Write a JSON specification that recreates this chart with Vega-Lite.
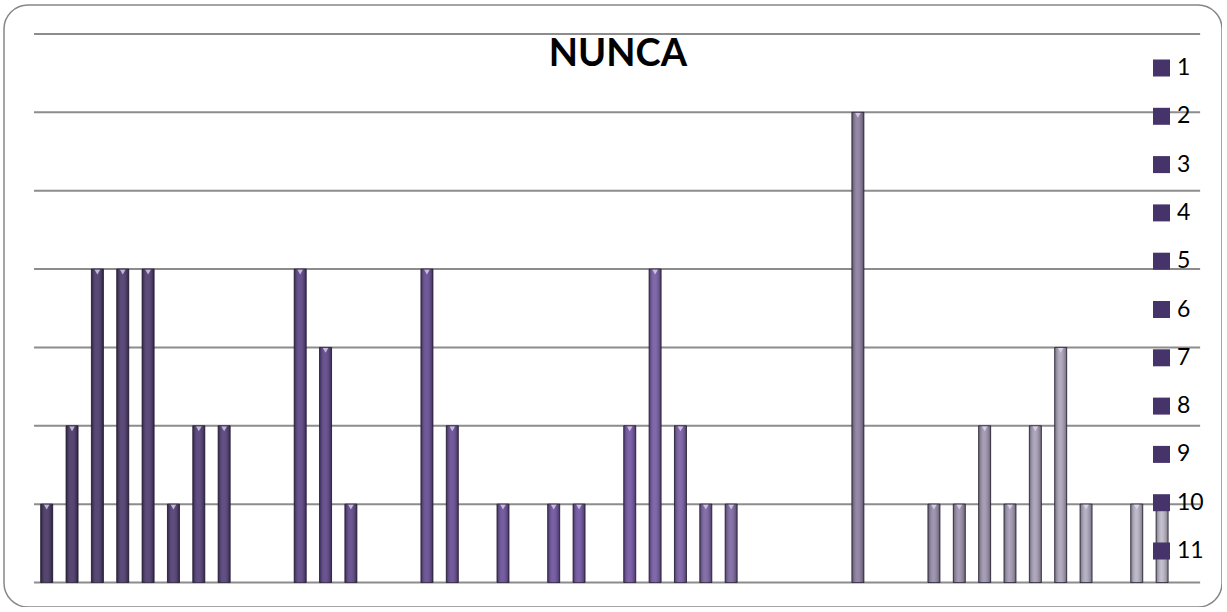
{
  "$schema": "https://vega.github.io/schema/vega-lite/v6.json",
  "autosize": {"type": "none"},
  "padding": {"left": 4, "top": 5, "right": 0, "bottom": 0},
  "width": 1218,
  "height": 602,
  "background": "white",
  "config": {
    "view": {"stroke": "#868686", "strokeWidth": 1.5, "cornerRadius": 24, "fill": "white"}
  },
  "title": {"text": "NUNCA", "font": "Lato", "fontSize": 38, "fontWeight": "bold", "color": "#000000", "anchor": "middle", "offset": -99, "baseline": "alphabetic", "dx": 5},
  "datasets": {
    "bars": [
      {"n": 0, "v": 1}, {"n": 1, "v": 2}, {"n": 2, "v": 4}, {"n": 3, "v": 4}, {"n": 4, "v": 4},
      {"n": 5, "v": 1}, {"n": 6, "v": 2}, {"n": 7, "v": 2}, {"n": 8, "v": 0}, {"n": 9, "v": 0},
      {"n": 10, "v": 4}, {"n": 11, "v": 3}, {"n": 12, "v": 1}, {"n": 13, "v": 0}, {"n": 14, "v": 0},
      {"n": 15, "v": 4}, {"n": 16, "v": 2}, {"n": 17, "v": 0}, {"n": 18, "v": 1}, {"n": 19, "v": 0},
      {"n": 20, "v": 1}, {"n": 21, "v": 1}, {"n": 22, "v": 0}, {"n": 23, "v": 2}, {"n": 24, "v": 4},
      {"n": 25, "v": 2}, {"n": 26, "v": 1}, {"n": 27, "v": 1}, {"n": 28, "v": 0}, {"n": 29, "v": 0},
      {"n": 30, "v": 0}, {"n": 31, "v": 0}, {"n": 32, "v": 6}, {"n": 33, "v": 0}, {"n": 34, "v": 0},
      {"n": 35, "v": 1}, {"n": 36, "v": 1}, {"n": 37, "v": 2}, {"n": 38, "v": 1}, {"n": 39, "v": 2},
      {"n": 40, "v": 3}, {"n": 41, "v": 1}, {"n": 42, "v": 0}, {"n": 43, "v": 1}, {"n": 44, "v": 1},
      {"n": 45, "v": 0}
    ],
    "grid": [{"g": 0}, {"g": 1}, {"g": 2}, {"g": 3}, {"g": 4}, {"g": 5}, {"g": 6}, {"g": 7}],
    "legend": [{"k": 1}, {"k": 2}, {"k": 3}, {"k": 4}, {"k": 5}, {"k": 6}, {"k": 7}, {"k": 8}, {"k": 9}, {"k": 10}, {"k": 11}]
  },
  "layer": [
    {
      "data": {"name": "grid"},
      "mark": {"type": "rule", "stroke": "#8c8c8c", "strokeWidth": 2},
      "encoding": {
        "y": {"field": "g", "type": "quantitative", "axis": null, "scale": {"domain": [-0.3127, 7.37], "nice": false, "zero": false, "padding": 0}},
        "x": {"datum": -0.5, "type": "quantitative", "axis": null, "scale": {"domain": [-1.6844, 46.363], "nice": false, "zero": false, "padding": 0}},
        "x2": {"datum": 45.5}
      }
    },
    {
      "data": {"name": "bars"},
      "transform": [{"filter": "datum.v > 0"}],
      "mark": {"type": "bar", "width": 12, "stroke": "#2a2238", "strokeWidth": 1, "strokeOpacity": 0.85},
      "encoding": {
        "x": {"field": "n", "type": "quantitative"},
        "y": {"field": "v", "type": "quantitative"},
        "color": {"field": "n", "type": "quantitative", "legend": null, "scale": {"domain": [0, 10, 23, 32, 45], "range": ["#3d2b5c", "#533a80", "#6d4ea2", "#86789c", "#c0bccb"], "interpolate": "rgb"}}
      }
    },
    {
      "data": {"name": "bars"},
      "transform": [{"filter": "datum.v > 0"}],
      "mark": {"type": "bar", "width": 12, "fill": {"gradient": "linear", "x1": 0, "x2": 1, "y1": 0, "y2": 0, "stops": [{"offset": 0, "color": "rgba(0,0,0,0.35)"}, {"offset": 0.45, "color": "rgba(255,255,255,0.12)"}, {"offset": 1, "color": "rgba(0,0,0,0.35)"}]}},
      "encoding": {
        "x": {"field": "n", "type": "quantitative"},
        "y": {"field": "v", "type": "quantitative"}
      }
    },
    {
      "data": {"name": "bars"},
      "transform": [{"filter": "datum.v > 0"}],
      "mark": {"type": "point", "shape": "triangle-down", "filled": true, "fill": "#e6dcf6", "opacity": 0.75, "size": 30, "yOffset": 3},
      "encoding": {
        "x": {"field": "n", "type": "quantitative"},
        "y": {"field": "v", "type": "quantitative"}
      }
    },
    {
      "data": {"name": "legend"},
      "mark": {"type": "point", "shape": "square", "filled": true, "opacity": 0},
      "encoding": {
        "color": {
          "field": "k", "type": "ordinal",
          "scale": {"range": ["#45336a", "#45336a", "#45336a", "#45336a", "#45336a", "#45336a", "#45336a", "#45336a", "#45336a", "#45336a", "#45336a"]},
          "legend": {"title": null, "orient": "none", "legendX": 1146, "legendY": 51.5, "padding": 0, "symbolType": "square", "symbolSize": 289, "symbolOpacity": 1, "symbolStrokeWidth": 0, "labelFont": "Lato", "labelFontSize": 23, "labelColor": "#000000", "labelOffset": 4, "rowPadding": 24.3}
        }
      }
    }
  ],
  "resolve": {"scale": {"color": "independent"}}
}
